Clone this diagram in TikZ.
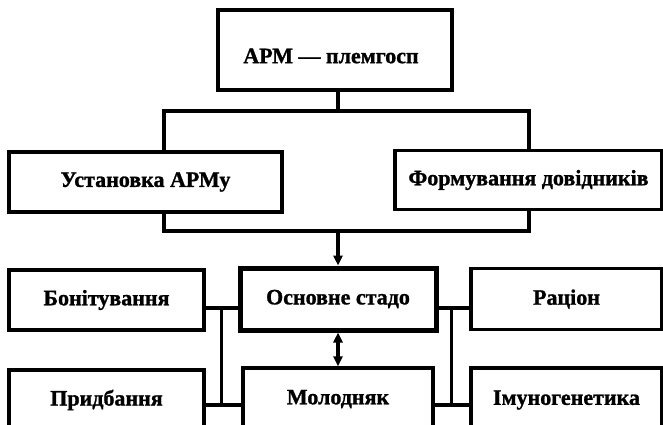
\documentclass[tikz,border=0pt]{standalone}
\usepackage{fontspec}
\setmainfont{Liberation Serif}[BoldFeatures={FakeBold=1.2}]
\usetikzlibrary{arrows.meta}
\tikzset{
  box/.style={draw, line width=3.2pt, fill=white, inner sep=0pt,
    font=\bfseries\fontsize{22}{26}\selectfont},
  mainbox/.style={box, line width=5pt},
  conn/.style={line width=3.2pt},
  arr/.style={conn, -{Triangle[length=10pt,width=9pt]}},
  darr/.style={conn, {Triangle[length=10pt,width=9pt]}-{Triangle[length=10pt,width=9pt]}}
}
\begin{document}
\begin{tikzpicture}[x=1pt,y=-1pt]
\useasboundingbox (0,0) rectangle (663,425);
\clip (0,0) rectangle (663,425);
\fill[white] (0,0) rectangle (663,425);
% frame behind upper boxes
\node[draw, line width=3.2pt, minimum width=365pt, minimum height=120pt, inner sep=0pt] (frame) at (346.5,171) {};
% top box
\node[box, minimum width=234pt, minimum height=80pt] (top) at (335,50) {};
\node[font=\bfseries\fontsize{22}{26}\selectfont, inner sep=0pt] (toptext) at (331,56) {АРМ — племгосп};
\draw[conn] ([xshift=3pt]top.south) -- ([xshift=3pt]top.south |- frame.north);
% second row
\node[box, minimum width=273pt, minimum height=60pt] (ust) at (145.5,182) {Установка АРМу};
\node[box, minimum width=267pt, minimum height=59pt] (form) at (528.5,180) {Формування довідників};
% third row
\node[box, minimum width=195pt, minimum height=60pt] (bon) at (106.5,300) {Бонітування};
\node[mainbox, minimum width=196pt, minimum height=62pt] (osn) at (338,299) {Основне стадо};
\node[box, minimum width=191pt, minimum height=61pt] (rac) at (566.5,299) {Раціон};
% fourth row
\node[box, minimum width=195pt, minimum height=60pt] (prid) at (106.5,400) {Придбання};
\node[box, minimum width=190pt, minimum height=62pt] (mol) at (338,399) {Молодняк};
\node[box, minimum width=191pt, minimum height=64pt] (imu) at (566.5,400) {Імуногенетика};
% arrows
\draw[arr] (osn.north |- frame.south) -- (osn.north);
\draw[darr] (osn.south) -- (mol.north);
% left bus
\draw[conn] ([yshift=-8pt]bon.east) -- ([yshift=-9pt]osn.west);
\draw[conn] ([yshift=-5pt]prid.east) -- ([yshift=-6pt]mol.west);
\draw[conn] ([xshift=16pt,yshift=-8pt]bon.east) -- ([xshift=16pt,yshift=-5pt]prid.east);
% right bus
\draw[conn] ([yshift=-9pt]osn.east) -- ([yshift=-9pt]rac.west);
\draw[conn] ([yshift=-6pt]mol.east) -- ([yshift=-5pt]imu.west);
\draw[conn] ([xshift=-18pt,yshift=-9pt]rac.west) -- ([xshift=-18pt,yshift=-5pt]imu.west);
\end{tikzpicture}
\end{document}
